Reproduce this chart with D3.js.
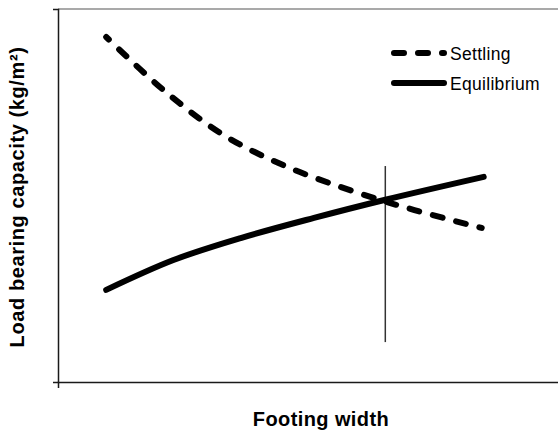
<!DOCTYPE html>
<html>
<head>
<meta charset="utf-8">
<script src="https://cdn.jsdelivr.net/npm/d3@7"></script>
<style>
  body { margin: 0; background: #fff; }
  text { font-family: "Liberation Sans", Arial, sans-serif; }
</style>
</head>
<body>
<div id="chart"></div>
<script>
// values (arbitrary 0-100 units on both axes)
var settlingX = [9.6, 21, 33, 45.8, 59.8, 71, 84.4];
var settlingY = [92.5, 78.3, 66.2, 57.6, 50.7, 46.1, 41.3];
var equilX = [9.6, 23, 36.4, 51, 65, 84.8];
var equilY = [24.7, 32.7, 38.6, 44.0, 48.8, 55.0];
var markerX = [65.2, 65.2];
var markerY = [10.7, 57.9];
var seriesNames = ["Settling", "Equilibrium"];

var W = 558, H = 430;
var svg = d3.select("#chart").append("svg")
    .attr("width", W)
    .attr("height", H);

var x = d3.scaleLinear().domain([0, 100]).range([58, 560]);
var y = d3.scaleLinear().domain([0, 100]).range([382, 9]);

// top border of plot area
svg.append("line")
    .attr("x1", 58).attr("x2", W)
    .attr("y1", y(100)).attr("y2", y(100))
    .attr("stroke", "#8c8c8c")
    .attr("stroke-width", 1.5);

// axes, only end ticks
svg.append("g")
    .attr("transform", "translate(0," + y(0) + ")")
    .call(d3.axisBottom(x).tickValues([]).tickSizeOuter(6));
svg.append("g")
    .attr("transform", "translate(" + x(0) + ",0)")
    .call(d3.axisLeft(y).tickValues([]).tickSizeOuter(5));
svg.selectAll(".domain")
    .attr("stroke", "#1a1a1a")
    .attr("stroke-width", 1.5);

var line = d3.line()
    .x(function(d) { return x(d[0]); })
    .y(function(d) { return y(d[1]); })
    .curve(d3.curveCatmullRom);

var settling = settlingX.map(function(v, i) { return [v, settlingY[i]]; });
var equil = equilX.map(function(v, i) { return [v, equilY[i]]; });

// vertical marker
svg.append("line")
    .attr("x1", x(markerX[0])).attr("x2", x(markerX[1]))
    .attr("y1", y(markerY[0])).attr("y2", y(markerY[1]))
    .attr("stroke", "#333")
    .attr("stroke-width", 1.5);

svg.append("path")
    .datum(equil)
    .attr("d", line)
    .attr("fill", "none")
    .attr("stroke", "#000")
    .attr("stroke-width", 6)
    .attr("stroke-linecap", "round");

svg.append("path")
    .datum(settling)
    .attr("d", line)
    .attr("fill", "none")
    .attr("stroke", "#000")
    .attr("stroke-width", 6)
    .attr("stroke-linecap", "round")
    .attr("stroke-dasharray", "10,14")
    .attr("stroke-dashoffset", 6);

// legend
var legend = svg.append("g");
var legY = [53, 83];
seriesNames.forEach(function(name, i) {
  legend.append("line")
      .attr("x1", 394).attr("x2", 444)
      .attr("y1", legY[i]).attr("y2", legY[i])
      .attr("stroke", "#000")
      .attr("stroke-width", 6)
      .attr("stroke-linecap", "round")
      .attr("stroke-dasharray", i == 0 ? "10,14" : null);
  legend.append("text")
      .attr("x", 450)
      .attr("y", legY[i] + 6.5)
      .attr("font-size", "17.5px")
      .attr("letter-spacing", "0.3px")
      .attr("fill", "#000")
      .text(name);
});

// axis titles
svg.append("text")
    .attr("x", 321)
    .attr("y", 426)
    .attr("text-anchor", "middle")
    .attr("font-size", "20px")
    .attr("font-weight", "bold")
    .attr("letter-spacing", "0.4px")
    .text("Footing width");

svg.append("text")
    .attr("transform", "translate(24,197) rotate(-90)")
    .attr("text-anchor", "middle")
    .attr("font-size", "20px")
    .attr("font-weight", "bold")
    .attr("letter-spacing", "0.6px")
    .text("Load bearing capacity (kg/m\u00b2)");
</script>
</body>
</html>
